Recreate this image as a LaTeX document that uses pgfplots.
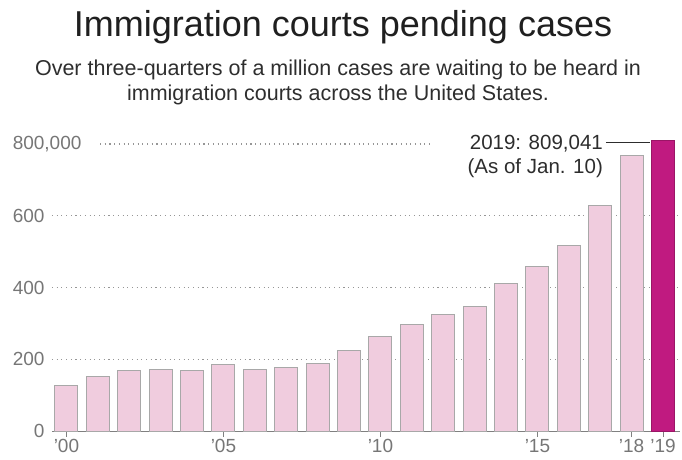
\documentclass[border=0pt]{standalone}
\usepackage{fontspec}
\setmainfont{Liberation Sans}
\usepackage{pgfplots}
\pgfplotsset{compat=1.18}
\definecolor{barpink}{RGB}{240,204,222}
\definecolor{barmag}{RGB}{192,26,128}
\definecolor{bargray}{RGB}{168,168,168}
\definecolor{ticklab}{RGB}{118,118,118}
\definecolor{gridc}{RGB}{150,150,150}
\definecolor{annot}{RGB}{45,45,45}
\begin{document}
\begin{tikzpicture}[x=1pt,y=1pt]
\useasboundingbox (0,0) rectangle (682,459);
\node[anchor=base, font=\fontsize{36}{40}\selectfont, text=black!88, inner sep=0pt] at (343,422) {Immigration courts pending cases};
\node[anchor=base, font=\fontsize{21.5}{25}\selectfont, text=black!82, inner sep=0pt] at (338,384) {Over three-quarters of a million cases are waiting to be heard in};
\node[anchor=base, font=\fontsize{21.5}{25}\selectfont, text=black!82, inner sep=0pt] at (338,359) {immigration courts across the United States.};
\begin{axis}[
  at={(52pt,28pt)}, anchor=south west, scale only axis,
  width=628.3pt, height=297.8pt,
  xmin=-0.46, xmax=19.55, ymin=0, ymax=830,
  axis x line*=bottom, axis y line*=left,
  x axis line style={draw=gray, line width=1pt, -},
  y axis line style={draw=none},
  xtick={0,5,10,15,18,19},
  xticklabels={'00,'05,'10,'15,'18,'19},
  ytick={0,200,400,600,800},
  yticklabels={0,200,400,600,{\rlap{800,000}\phantom{600}}},
  tick align=outside, major tick length=6pt,
  xtick style={draw=gray, line width=1pt},
  ytick style={draw=none},
  tick label style={font=\fontsize{19}{22}\selectfont, text=ticklab},
  yticklabel style={xshift=2pt},
  xticklabel style={yshift=1pt},
  clip=false,
]
\draw[gridc, line width=1.1pt, dash pattern=on 1.1pt off 3.6pt] (axis cs:-0.46,200) -- (axis cs:19.55,200);
\draw[gridc, line width=1.1pt, dash pattern=on 1.1pt off 3.6pt] (axis cs:-0.46,400) -- (axis cs:19.55,400);
\draw[gridc, line width=1.1pt, dash pattern=on 1.1pt off 3.6pt] (axis cs:-0.46,600) -- (axis cs:19.55,600);
\draw[gridc, line width=1.1pt, dash pattern=on 1.1pt off 3.6pt] (axis cs:1.07,800) -- (axis cs:11.67,800);
\addplot[ybar, bar shift=0pt, bar width=23pt, fill=barpink, draw=bargray, line width=0.9pt] coordinates {
(0,128) (1,151) (2,168) (3,171) (4,169) (5,185) (6,171) (7,176) (8,187) (9,225)
(10,264) (11,298) (12,326) (13,346) (14,410) (15,458) (16,517) (17,629) (18,769)
};
\addplot[ybar, bar shift=0pt, bar width=23pt, fill=barmag, draw=barmag!80!black, line width=0.9pt] coordinates {
(19,809)
};
\node[anchor=east, font=\fontsize{20.5}{24}\selectfont, text=annot, inner sep=0pt] at (axis cs:17.09,801) {2019: 809,041};
\draw[annot, line width=1pt] (axis cs:17.18,803) -- (axis cs:18.58,803);
\node[anchor=east, font=\fontsize{20.5}{24}\selectfont, text=annot, inner sep=0pt] at (axis cs:17.09,732) {(As of Jan. 10)};
\end{axis}
\end{tikzpicture}
\end{document}
